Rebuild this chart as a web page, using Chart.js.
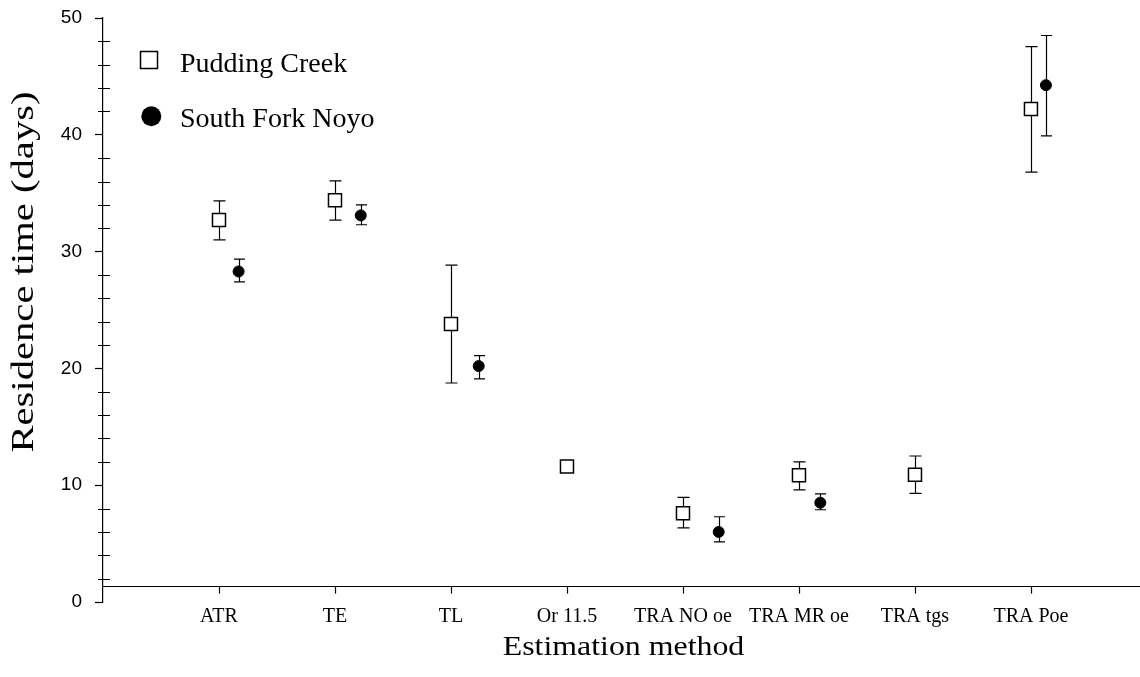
<!DOCTYPE html>
<html>
<head>
<meta charset="utf-8">
<title>Residence time by estimation method</title>
<script src="https://cdn.jsdelivr.net/npm/chart.js@4.4.1/dist/chart.umd.min.js"></script>
<style>
  html, body { margin: 0; padding: 0; background: #ffffff; }
  #wrap { width: 1140px; height: 677px; }
</style>
</head>
<body>
<div id="wrap"><canvas id="chart" width="1140" height="677"></canvas></div>
<script>
// Estimation methods along the x axis
const categories = ['ATR', 'TE', 'TL', 'Or 11.5', 'TRA NO oe', 'TRA MR oe', 'TRA tgs', 'TRA Poe'];

// Pudding Creek: mean residence time (days) with upper / lower error limits
const pcMean  = [32.7, 34.4, 23.8, 11.6, 7.6, 10.85, 10.9, 42.2];
const pcUpper = [34.35, 36.05, 28.85, null, 8.95, 12.0, 12.5, 47.55];
const pcLower = [31.0, 32.7, 18.75, null, 6.35, 9.6, 9.3, 36.8];

// South Fork Noyo: plotted slightly right of each method position
const sfnX     = [1.169, 2.222, 3.239, null, 5.308, 6.184, null, 8.129];
const sfnMean  = [28.3, 33.1, 20.2, null, 6.0, 8.5, null, 44.25];
const sfnUpper = [29.35, 34.0, 21.1, null, 7.3, 9.25, null, 48.5];
const sfnLower = [27.4, 32.3, 19.1, null, 5.15, 7.9, null, 39.9];

// Axis ranges and ticks
const yMin = 0, yMax = 50, yStep = 2, yLabelEvery = 10;
const xMin = 0, xMax = 8.94;

const seriesNames = ['Pudding Creek', 'South Fork Noyo'];

function points(xs, ys, hi, lo) {
  const out = [];
  ys.forEach((y, i) => {
    if (y === null) return;
    out.push({ x: xs[i], y: y, hi: hi[i], lo: lo[i] });
  });
  return out;
}

const pcPoints = points(categories.map((_, i) => i + 1), pcMean, pcUpper, pcLower);
const sfnPoints = points(sfnX, sfnMean, sfnUpper, sfnLower);

const SERIF = "'Liberation Serif', 'Times New Roman', serif";
const SANS = "'Liberation Sans', Arial, sans-serif";

// Vertical error bars with caps, drawn beneath the markers
const errorBars = {
  id: 'errorBars',
  beforeDatasetsDraw(chart) {
    const { ctx, scales: { x, y } } = chart;
    ctx.save();
    ctx.strokeStyle = '#000';
    ctx.lineWidth = 1.2;
    chart.data.datasets.forEach(ds => {
      const half = ds.capHalf;
      ds.data.forEach(p => {
        if (p.hi == null || p.lo == null) return;
        const px = Math.round(x.getPixelForValue(p.x)) + 0.5;
        const yh = y.getPixelForValue(p.hi);
        const yl = y.getPixelForValue(p.lo);
        ctx.beginPath();
        ctx.moveTo(px, yh); ctx.lineTo(px, yl);
        ctx.moveTo(px - half, yh); ctx.lineTo(px + half, yh);
        ctx.moveTo(px - half, yl); ctx.lineTo(px + half, yl);
        ctx.stroke();
      });
    });
    ctx.restore();
  }
};

// Axis decorations: minor y ticks, offset x axis line, axis titles and legend
const decorations = {
  id: 'decorations',
  afterDraw(chart) {
    const { ctx, chartArea, scales: { x, y } } = chart;
    ctx.save();
    ctx.strokeStyle = '#000';
    ctx.lineWidth = 1.2;

    // minor ticks cross the y axis
    const ax = chartArea.left;
    ctx.beginPath();
    for (let v = yMin; v <= yMax; v += yStep) {
      if (v % yLabelEvery === 0) continue;
      const py = Math.round(y.getPixelForValue(v)) + 0.5;
      ctx.moveTo(ax - 5, py); ctx.lineTo(ax + 7, py);
    }
    ctx.stroke();

    // x axis line sits a little above the zero line
    const baseY = Math.round(y.getPixelForValue(yMin)) - 16 + 0.5;
    ctx.beginPath();
    ctx.moveTo(ax, baseY); ctx.lineTo(chartArea.right, baseY);
    categories.forEach((_, i) => {
      const px = Math.round(x.getPixelForValue(i + 1)) + 0.5;
      ctx.moveTo(px, baseY); ctx.lineTo(px, baseY + 7);
    });
    ctx.stroke();

    ctx.fillStyle = '#000';
    // y axis title
    ctx.save();
    ctx.translate(33, 272);
    ctx.rotate(-Math.PI / 2);
    ctx.scale(1.27, 1);
    ctx.font = '32px ' + SERIF;
    ctx.textAlign = 'center';
    ctx.textBaseline = 'alphabetic';
    ctx.fillText('Residence time (days)', 0, 0);
    ctx.restore();

    // x axis title
    ctx.save();
    ctx.translate((chartArea.left + chartArea.right) / 2 + 2, 655);
    ctx.scale(1.18, 1);
    ctx.font = '27px ' + SERIF;
    ctx.textAlign = 'center';
    ctx.textBaseline = 'alphabetic';
    ctx.fillText('Estimation method', 0, 0);
    ctx.restore();

    // legend
    ctx.lineWidth = 1.5;
    ctx.fillStyle = '#fff';
    ctx.fillRect(140.5, 51.5, 17, 17);
    ctx.strokeRect(140.5, 51.5, 17, 17);
    ctx.fillStyle = '#000';
    ctx.beginPath();
    ctx.arc(151.3, 116.3, 10, 0, Math.PI * 2);
    ctx.fill();
    ctx.font = '28px ' + SERIF;
    ctx.textAlign = 'left';
    ctx.textBaseline = 'alphabetic';
    ctx.fillText(chart.data.datasets[0].label, 180, 71.5);
    ctx.fillText(chart.data.datasets[1].label, 180, 126.5);

    ctx.restore();
  }
};

new Chart(document.getElementById('chart'), {
  type: 'scatter',
  data: {
    datasets: [
      {
        label: seriesNames[0],
        data: pcPoints,
        pointStyle: 'rect',
        pointRadius: 9.2,
        pointHoverRadius: 9.2,
        backgroundColor: '#ffffff',
        borderColor: '#000000',
        borderWidth: 1.5,
        capHalf: 6
      },
      {
        label: seriesNames[1],
        data: sfnPoints,
        pointStyle: 'circle',
        pointRadius: 5.5,
        pointHoverRadius: 5.5,
        backgroundColor: '#000000',
        borderColor: '#000000',
        borderWidth: 1,
        capHalf: 5.5
      }
    ]
  },
  options: {
    responsive: false,
    animation: false,
    devicePixelRatio: 1,
    layout: { autoPadding: false, padding: { top: 18, right: 0, bottom: 0, left: 0 } },
    plugins: {
      legend: { display: false },
      tooltip: { enabled: false }
    },
    scales: {
      x: {
        type: 'linear',
        min: xMin,
        max: xMax,
        afterBuildTicks: s => { s.ticks = categories.map((_, i) => ({ value: i + 1 })); },
        afterFit: s => { s.height = 75; s.paddingLeft = 0; s.paddingRight = 0; },
        ticks: {
          autoSkip: false,
          maxRotation: 0,
          padding: -5,
          color: '#000',
          font: { family: SERIF, size: 20 },
          callback: v => categories[v - 1] ?? ''
        },
        grid: { display: false },
        border: { display: false }
      },
      y: {
        type: 'linear',
        min: yMin,
        max: yMax,
        afterFit: s => { s.width = 103; s.paddingTop = 0; s.paddingBottom = 0; },
        ticks: {
          stepSize: yStep,
          autoSkip: false,
          padding: 13,
          color: '#000',
          font: { family: SANS, size: 19 },
          callback: v => (v % yLabelEvery === 0 ? String(v) : '')
        },
        grid: {
          drawOnChartArea: false,
          tickLength: 8,
          tickWidth: 1.2,
          tickColor: c => (c.tick && c.tick.value % yLabelEvery === 0 ? '#000' : 'rgba(0,0,0,0)')
        },
        border: { display: true, color: '#000', width: 1.2 }
      }
    }
  },
  plugins: [errorBars, decorations]
});
</script>
</body>
</html>
